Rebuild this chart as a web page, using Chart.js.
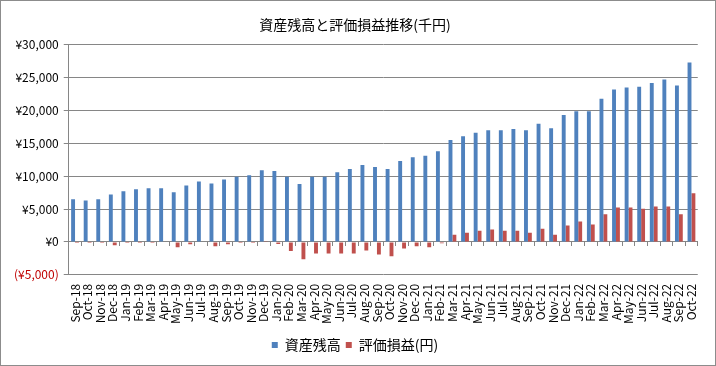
<!DOCTYPE html>
<html>
<head>
<meta charset="utf-8">
<script src="https://cdn.jsdelivr.net/npm/chart.js@4/dist/chart.umd.min.js"></script>
<style>
    html, body { margin: 0; padding: 0; background: #fff; }
    #wrap { width: 716px; height: 366px; box-sizing: border-box; border: 1px solid #8c8c8c; }
</style>
</head>
<body>
<div id="wrap"><canvas id="myChart" width="714" height="364"></canvas></div>
<script>
const months = [
    'Sep-18', 'Oct-18', 'Nov-18', 'Dec-18', 'Jan-19', 'Feb-19', 'Mar-19', 'Apr-19', 'May-19', 'Jun-19',
    'Jul-19', 'Aug-19', 'Sep-19', 'Oct-19', 'Nov-19', 'Dec-19', 'Jan-20', 'Feb-20', 'Mar-20', 'Apr-20',
    'May-20', 'Jun-20', 'Jul-20', 'Aug-20', 'Sep-20', 'Oct-20', 'Nov-20', 'Dec-20', 'Jan-21', 'Feb-21',
    'Mar-21', 'Apr-21', 'May-21', 'Jun-21', 'Jul-21', 'Aug-21', 'Sep-21', 'Oct-21', 'Nov-21', 'Dec-21',
    'Jan-22', 'Feb-22', 'Mar-22', 'Apr-22', 'May-22', 'Jun-22', 'Jul-22', 'Aug-22', 'Sep-22', 'Oct-22'
];

// 資産残高 (千円)
const assetBalance = [
    6500, 6300, 6500, 7200, 7700, 8000, 8150, 8150, 7550, 8600,
    9200, 8900, 9500, 9900, 10150, 10900, 10800, 9900, 8800, 9900,
    9900, 10600, 11100, 11700, 11400, 11100, 12300, 12900, 13100, 13800,
    15500, 16100, 16600, 17000, 17000, 17200, 17000, 18000, 17300, 19300,
    19900, 19900, 21800, 23200, 23500, 23600, 24200, 24700, 23800, 27300
];

// 評価損益 (円)
const unrealizedGain = [
    -30, -30, -20, -500, -150, -30, -30, -100, -800, -350,
    -100, -650, -350, -150, -30, 100, -300, -1400, -2650, -1750,
    -1750, -1750, -1750, -1300, -1900, -2200, -1000, -650, -800, -200,
    1100, 1400, 1700, 1900, 1700, 1700, 1400, 2000, 1100, 2500,
    3100, 2650, 4200, 5250, 5250, 5050, 5400, 5400, 4200, 7400
];

const yTicks = [-5000, 0, 5000, 10000, 15000, 20000, 25000, 30000];

const fontFamily = '"Noto Sans CJK JP", "Noto Sans", sans-serif';
const gridColor = '#868686';

function yen(value) {
    const text = '¥' + Math.abs(value).toLocaleString('en-US');
    return value < 0 ? '(' + text + ')' : text;
}

const ctx = document.getElementById('myChart').getContext('2d');
new Chart(ctx, {
    type: 'bar',
    data: {
        labels: months,
        datasets: [
            {
                label: '資産残高',
                data: assetBalance,
                backgroundColor: '#4f81bd',
                categoryPercentage: 0.62,
                barPercentage: 1.0,
            },
            {
                label: '評価損益(円)',
                data: unrealizedGain,
                backgroundColor: '#c0504d',
                categoryPercentage: 0.62,
                barPercentage: 1.0,
            },
        ],
    },
    options: {
        responsive: false,
        animation: false,
        layout: {
            padding: { left: 8, right: 14, top: 7, bottom: 3 },
        },
        plugins: {
            title: {
                display: true,
                text: '資産残高と評価損益推移(千円)',
                color: '#000',
                font: { family: fontFamily, size: 14, weight: 'normal' },
                padding: { top: 8, bottom: 12 },
            },
            legend: {
                position: 'bottom',
                labels: {
                    color: '#000',
                    boxWidth: 6,
                    boxHeight: 6,
                    padding: 5,
                    font: { family: fontFamily, size: 14 },
                },
            },
            tooltip: { enabled: false },
        },
        scales: {
            x: {
                type: 'category',
                ticks: {
                    color: '#000',
                    autoSkip: false,
                    minRotation: 90,
                    maxRotation: 90,
                    padding: 9,
                    font: { family: fontFamily, size: 12 },
                },
                grid: { display: false, drawTicks: false },
                border: { display: false },
            },
            x0: {
                type: 'category',
                position: { y: 0 },
                offset: true,
                ticks: { display: false },
                grid: {
                    offset: true,
                    drawOnChartArea: false,
                    drawTicks: true,
                    tickLength: 4,
                    color: gridColor,
                },
                border: { display: true, color: gridColor },
            },
            y: {
                min: -5000,
                max: 30000,
                afterBuildTicks: axis => {
                    axis.ticks = yTicks.map(value => ({ value }));
                },
                ticks: {
                    callback: value => yen(value),
                    color: context => (context.tick && context.tick.value < 0 ? '#c00000' : '#000'),
                    padding: 5,
                    font: { family: fontFamily, size: 12 },
                },
                grid: {
                    color: gridColor,
                    lineWidth: 1,
                    tickLength: 5,
                },
                border: { display: true, color: gridColor },
            },
        },
    },
});
</script>
</body>
</html>
